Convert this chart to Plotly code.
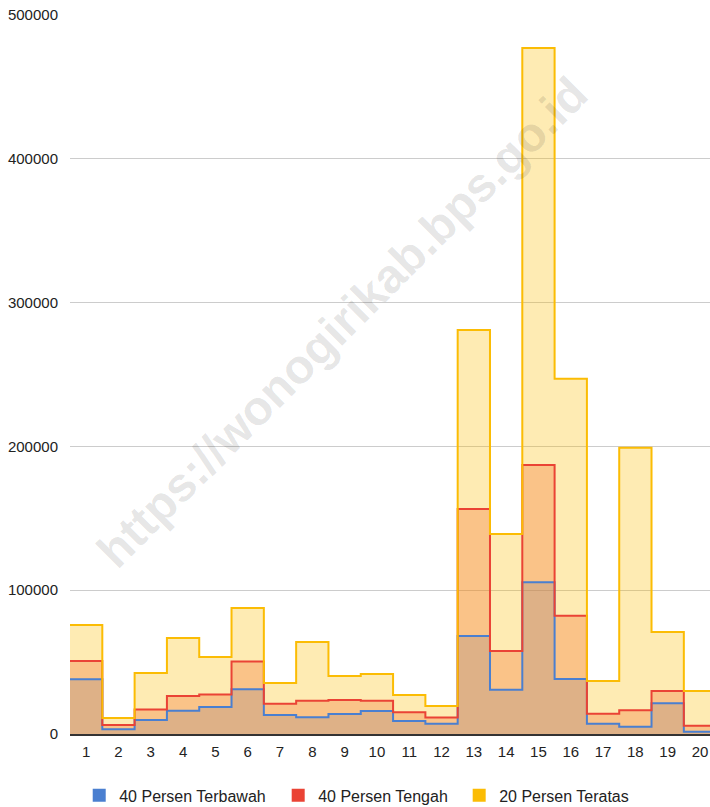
import plotly.graph_objects as go

categories = list(range(1, 21))
tick_labels = [str(c) for c in categories]

terbawah = [38000, 3300, 9700, 16200, 18800, 31100, 13200, 11600, 13900, 16000,
            9000, 7200, 68200, 30800, 105500, 38200, 7200, 5100, 21300, 1600]
tengah = [50800, 6200, 17000, 26400, 27400, 50400, 21100, 23100, 23600, 23200,
          15100, 11400, 156500, 57700, 187000, 82300, 14100, 16500, 29900, 5800]
teratas = [75800, 11100, 42400, 66800, 53500, 87600, 35500, 64000, 40300, 41700,
           27100, 19500, 281000, 139000, 477000, 247000, 36900, 199000, 71000, 29900]

series = [
    ("40 Persen Terbawah", terbawah, "#4a7fd0", "rgba(66,133,244,0.3)", "legend"),
    ("40 Persen Tengah", tengah, "#ea4335", "rgba(234,67,53,0.3)", "legend2"),
    ("20 Persen Teratas", teratas, "#fbbc04", "rgba(251,188,4,0.3)", "legend3"),
]

x_edges = [c - 0.5 for c in categories] + [categories[-1] + 0.5]

fig = go.Figure()
# fills
for name, vals, col, fcol, lg in series:
    fig.add_trace(go.Scatter(
        x=x_edges, y=vals + [vals[-1]], mode="lines", line=dict(shape="hv", width=0, color=col),
        fill="tozeroy", fillcolor=fcol, showlegend=False, hoverinfo="skip"))
# lines
for name, vals, col, fcol, lg in series:
    fig.add_trace(go.Scatter(
        x=x_edges, y=vals + [vals[-1]], mode="lines", line=dict(shape="hv", width=2, color=col),
        showlegend=False, name=name))
# legend entries
for name, vals, col, fcol, lg in series:
    fig.add_trace(go.Scatter(
        x=[None], y=[None], mode="markers", marker=dict(symbol="square", size=13, color=col),
        name=name, showlegend=True, legend=lg))

fig.add_annotation(
    text="<b>https://wonogirikab.bps.go.id</b>", xref="paper", yref="paper",
    x=0.425, y=0.572, showarrow=False, textangle=-45,
    font=dict(family="Liberation Sans, Arial, sans-serif", size=48, color="rgba(0,0,0,0.11)"))

legend_common = dict(orientation="h", xanchor="left", yref="container", y=0.0143,
                     yanchor="middle", font=dict(size=16, color="#222222"),
                     bgcolor="rgba(0,0,0,0)")

fig.update_layout(
    width=710, height=807,
    margin=dict(l=70, r=0, t=15, b=73),
    paper_bgcolor="white", plot_bgcolor="white",
    font=dict(family="Liberation Sans, Arial, sans-serif", size=15, color="#222222"),
    xaxis=dict(range=[0.5, 20.31], tickvals=categories, ticktext=tick_labels,
               showgrid=False, zeroline=False, showline=True, linecolor="#333333", linewidth=2,
               ticks="outside", ticklen=3, tickcolor="rgba(0,0,0,0)", fixedrange=True,
               tickfont=dict(size=15)),
    yaxis=dict(range=[0, 500000], dtick=100000, tickformat="d", showgrid=True,
               gridcolor="#cccccc", gridwidth=1, zeroline=False, showline=False,
               ticks="outside", ticklen=8, tickcolor="rgba(0,0,0,0)", fixedrange=True,
               tickfont=dict(size=15)),
    legend=dict(x=0.0144, **legend_common),
    legend2=dict(x=0.3253, **legend_common),
    legend3=dict(x=0.6081, **legend_common),
)

fig.write_html("out.html", config={"displayModeBar": False},
               post_script="document.body.style.margin='0';document.body.style.overflow='hidden';")
